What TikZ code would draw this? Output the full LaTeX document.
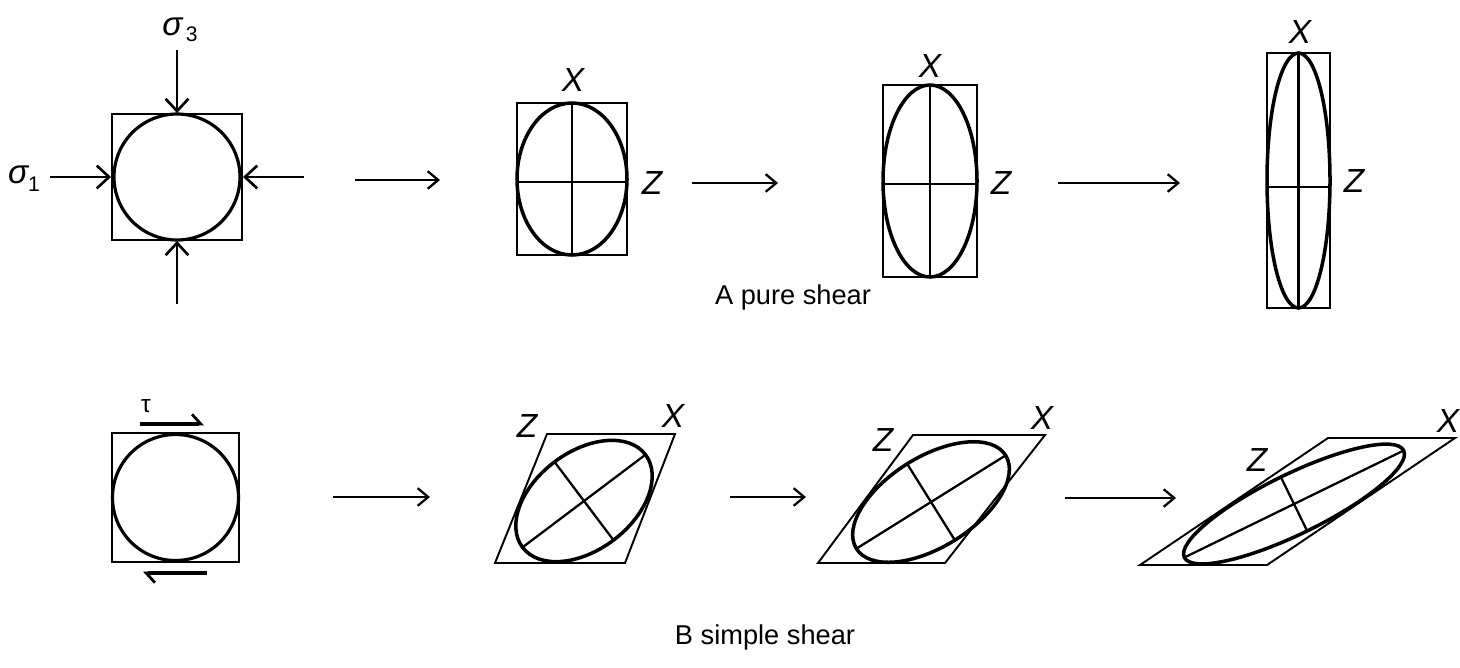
\documentclass[tikz,border=0pt]{standalone}
\usepackage{fontspec}
\setmainfont{Liberation Sans}
\usetikzlibrary{arrows.meta}
\begin{document}
\begin{tikzpicture}[x=0.02cm,y=-0.02cm,
  box/.style={line width=1.1pt},
  ell/.style={line width=2pt},
  axisline/.style={line width=1.3pt},
  stress/.style={line width=1.6pt,-{Straight Barb[length=7pt,width=13pt,line width=1.5pt]}},
  flow/.style={line width=1.3pt,-{Straight Barb[length=6pt,width=10pt,line width=1.3pt]}},
  shearar/.style={line width=1.8pt,-{Straight Barb[harpoon,length=5pt,width=11pt,line width=1.6pt]}},
  lab/.style={font=\fontsize{19}{19}\selectfont\itshape, inner sep=0pt},
  sig/.style={font=\fontsize{19}{19}\selectfont, inner sep=0pt},
  captxt/.style={font=\fontsize{15.5}{16}\selectfont, inner sep=0pt}]
\useasboundingbox (0,0) rectangle (1460,667);

% ---------------- A: pure shear ----------------
\draw[box] (112,114) rectangle (242,240);
\draw[ell,line width=1.8pt] (177,177) circle [radius=63];
\coordinate (s3a) at (177,50);  \coordinate (s3b) at (177,113);
\coordinate (s3c) at (177,304); \coordinate (s3d) at (177,241);
\coordinate (s1a) at (50,177);  \coordinate (s1b) at (111,177);
\coordinate (s1c) at (304,177); \coordinate (s1d) at (243,177);
\draw[stress] (s3a) -- (s3b);
\draw[stress] (s3c) -- (s3d);
\draw[stress] (s1a) -- (s1b);
\draw[stress] (s1c) -- (s1d);
\node[sig] (sig3) at (180,30) {\itshape σ\hspace{2pt}\raisebox{-0.35ex}{\upshape\fontsize{12}{12}\selectfont 3}};
\node[sig] (sig1) at (24,179) {\itshape σ\raisebox{-0.45ex}{\upshape\fontsize{12}{12}\selectfont 1}};

\coordinate (fa1) at (355,180); \coordinate (fa2) at (440,180);
\draw[flow] (fa1) -- (fa2);

% stage 1
\draw[box] (517,103) rectangle (627,255);
\draw[ell] (572,179) ellipse [x radius=55, y radius=76];
\draw[axisline] (572,103) -- (572,255);
\draw[axisline] (517,182) -- (627,182);
\node[lab] (x1) at (573,80) {X};
\node[lab] (z1) at (652,183) {Z};

\coordinate (fb1) at (692,183); \coordinate (fb2) at (778,183);
\draw[flow] (fb1) -- (fb2);

% stage 2
\draw[box] (883,85) rectangle (977,277);
\draw[ell] (930,181) ellipse [x radius=47, y radius=96];
\draw[axisline] (930,85) -- (930,277);
\draw[axisline] (883,184) -- (977,184);
\node[lab] (x2) at (930,66) {X};
\node[lab] (z2) at (1001,183) {Z};

\coordinate (fc1) at (1058,183); \coordinate (fc2) at (1180,183);
\draw[flow] (fc1) -- (fc2);

% stage 3
\draw[box] (1267,53) rectangle (1330,308);
\draw[ell] (1298.5,180.5) ellipse [x radius=31.5, y radius=127.5];
\draw[axisline] (1298.5,53) -- (1298.5,308);
\draw[axisline] (1267,187) -- (1330,187);
\node[lab] (x3) at (1300,32) {X};
\node[lab] (z3) at (1354,181) {Z};

\node[captxt] (capA) at (793,297) {A pure shear};

% ---------------- B: simple shear ----------------
\draw[box] (112,433) rectangle (239,562);
\draw[ell,line width=1.8pt] (175.5,497.5) circle [radius=63];
\coordinate (ta1) at (140,424); \coordinate (ta2) at (204,424);
\coordinate (tb1) at (207,573); \coordinate (tb2) at (143,573);
\draw[shearar] (ta1) -- (ta2);
\draw[shearar] (tb1) -- (tb2);
\node[sig,font=\fontsize{14}{14}\selectfont] (tau) at (146,406) {τ};

\coordinate (ga1) at (333,497); \coordinate (ga2) at (430,497);
\draw[flow] (ga1) -- (ga2);

% stage 1
\draw[box] (495,563) -- (625,563) -- (675,434) -- (547,434) -- cycle;
\begin{scope}[shift={(584,501)},rotate=37]
  \draw[ell] (0,0) ellipse [x radius=77, y radius=49];
  \draw[axisline] (-77,0) -- (77,0);
  \draw[axisline] (0,-49) -- (0,49);
\end{scope}
\node[lab] (zb1) at (527,426) {Z};
\node[lab] (xb1) at (673,416) {X};

\coordinate (gb1) at (730,497); \coordinate (gb2) at (806,497);
\draw[flow] (gb1) -- (gb2);

% stage 2
\draw[box] (818,563) -- (945,563) -- (1045,435) -- (913,435) -- cycle;
\begin{scope}[shift={(931,502)},rotate=32]
  \draw[ell] (0,0) ellipse [x radius=88, y radius=45];
  \draw[axisline] (-88,0) -- (88,0);
  \draw[axisline] (0,-45) -- (0,45);
\end{scope}
\node[lab] (zb2) at (883,440) {Z};
\node[lab] (xb2) at (1042,418) {X};

\coordinate (gc1) at (1065,498); \coordinate (gc2) at (1176,498);
\draw[flow] (gc1) -- (gc2);

% stage 3
\draw[box] (1140,565) -- (1267,565) -- (1455,438) -- (1328,438) -- cycle;
\begin{scope}[shift={(1294,504)},rotate=26]
  \draw[ell] (0,0) ellipse [x radius=122, y radius=30];
  \draw[axisline] (-122,0) -- (122,0);
  \draw[axisline] (0,-30) -- (0,30);
\end{scope}
\node[lab] (zb3) at (1257,460) {Z};
\node[lab] (xb3) at (1448,421) {X};

\node[captxt] (capB) at (765,637) {B simple shear};
\end{tikzpicture}
\end{document}
